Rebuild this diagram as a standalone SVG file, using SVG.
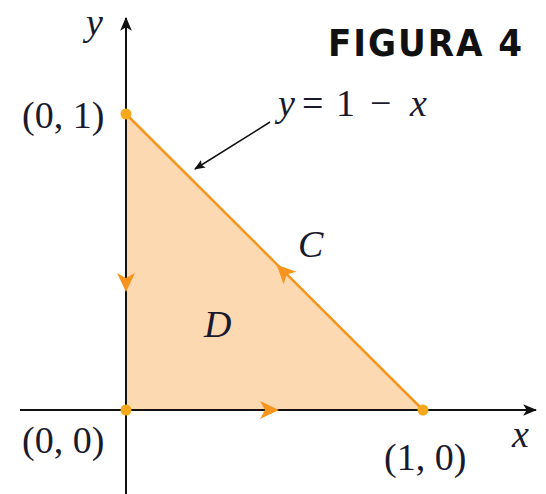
<svg xmlns="http://www.w3.org/2000/svg" width="546" height="494" viewBox="0 0 546 494">
<style>
.t{font-family:"Liberation Serif","Times New Roman",serif;font-size:38px;fill:#1a1a2e}
.i{font-style:italic}
.ax{stroke:#111;stroke-width:2;fill:none}
.edge{stroke:#f7941d;stroke-width:2.5;fill:none}
.dot{fill:#f6a81c}
.ah{fill:#f7941d}
</style>
<defs>
<marker id="blk" viewBox="0 0 12 10" refX="11" refY="5" markerWidth="14" markerHeight="12" markerUnits="userSpaceOnUse" orient="auto">
<path d="M0,0 L12,5 L0,10 L3,5 Z" fill="#111"/>
</marker>
<marker id="lead" viewBox="0 0 10 8" refX="9" refY="4" markerWidth="11" markerHeight="9" markerUnits="userSpaceOnUse" orient="auto">
<path d="M0,0 L10,4 L0,8 L2,4 Z" fill="#111"/>
</marker>
<path id="oh" d="M9,0 L-10,-9 L-5,0 L-10,9 Z"/>
</defs>
<g id="region">
<polygon points="126,114 126,410 423,410" fill="#fdd9b2"/>
</g>
<g id="connectors">
<line class="edge" x1="126" y1="114" x2="423" y2="410"/>
<line class="ax" x1="20" y1="410" x2="536" y2="410" marker-end="url(#blk)"/>
<line class="ax" x1="126" y1="494" x2="126" y2="18" marker-end="url(#blk)"/>
<line x1="270" y1="122" x2="195" y2="169" stroke="#111" stroke-width="1.5" marker-end="url(#lead)"/>
<use href="#oh" class="ah" transform="translate(126,283) rotate(90)"/>
<use href="#oh" class="ah" transform="translate(270,410)"/>
<use href="#oh" class="ah" transform="translate(283,271) rotate(-135)"/>
</g>
<g id="dots">
<circle class="dot" cx="126" cy="114" r="5.5"/>
<circle class="dot" cx="126" cy="410" r="5.5"/>
<circle class="dot" cx="423" cy="410" r="5.5"/>
</g>
<g id="labels">
<text class="t i" x="86" y="35">y</text>
<text x="328" y="56" font-family="DejaVu Sans Condensed,Liberation Sans,Arial,sans-serif" font-stretch="condensed" font-weight="bold" font-size="38" fill="#111" textLength="194" lengthAdjust="spacing">FIGURA 4</text>
<text class="t" x="22" y="128">(0, 1)</text>
<text class="t" y="116" font-size="40"><tspan class="i" x="278">y</tspan><tspan x="302">=</tspan><tspan x="336">1</tspan><tspan x="370">−</tspan><tspan class="i" x="410">x</tspan></text>
<text class="t i" x="298" y="257">C</text>
<text class="t i" x="204" y="337">D</text>
<text class="t" x="22" y="453">(0, 0)</text>
<text class="t" x="384" y="470">(1, 0)</text>
<text class="t i" x="512" y="447">x</text>
</g>
</svg>
